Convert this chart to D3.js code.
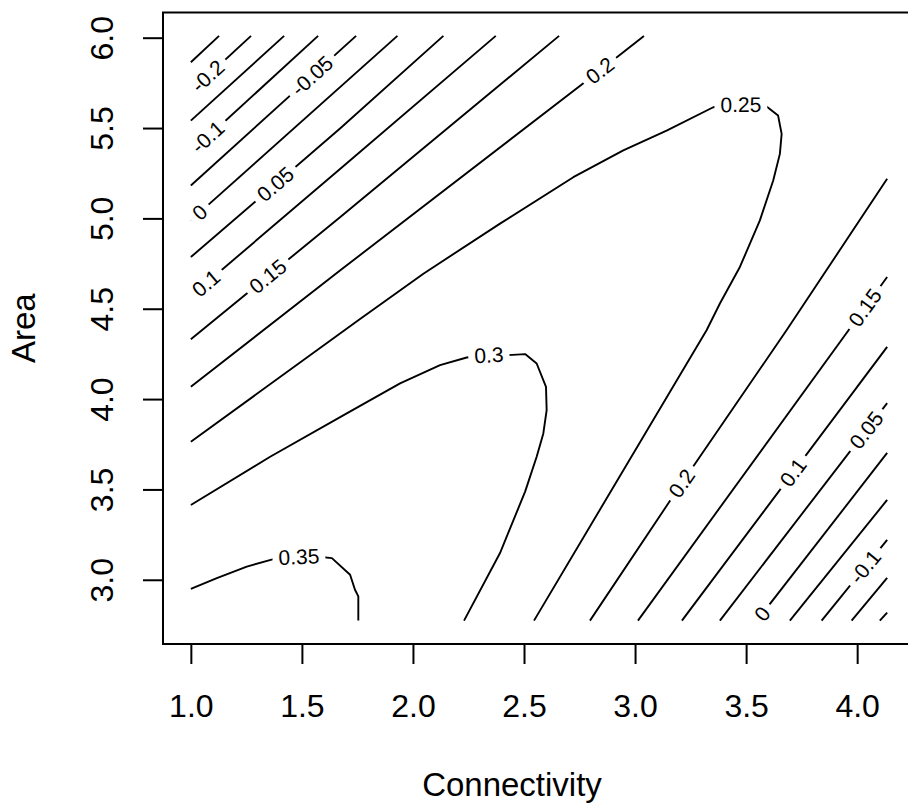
<!DOCTYPE html>
<html>
<head>
<meta charset="utf-8">
<script src="https://cdn.jsdelivr.net/npm/d3@7"></script>
<style>
  body { margin: 0; background: #fff; }
  svg { display: block; }
  text { font-family: "Liberation Sans", Arial, Helvetica, sans-serif; fill: #000; }
</style>
</head>
<body>
<svg id="chart" width="908" height="806"></svg>
<script>
// extent of the fitted grid (Connectivity x Area)
const connectivityRange = [1.0, 4.135];
const areaRange = [2.774, 6.01];

const xTicks = [1.0, 1.5, 2.0, 2.5, 3.0, 3.5, 4.0];
const yTicks = [3.0, 3.5, 4.0, 4.5, 5.0, 5.5, 6.0];

// contour pieces as [connectivity, area] points
// parallel lines in the top-left corner
const upperLines = [
  { level: -0.25, points: [[1.0, 5.864], [1.127, 6.01]] },
  { level: -0.2,  points: [[1.0, 5.702], [1.271, 6.01]] },
  { level: -0.15, points: [[1.0, 5.541], [1.420, 6.01]] },
  { level: -0.1,  points: [[1.0, 5.365], [1.573, 6.01]] },
  { level: -0.05, points: [[1.0, 5.182], [1.744, 6.01]] },
  { level: 0,     points: [[1.0, 4.989], [1.930, 6.01]] },
  { level: 0.05,  points: [[1.0, 4.786], [1.673, 5.499], [2.137, 6.01]] },
  { level: 0.1,   points: [[1.0, 4.569], [1.673, 5.275], [2.373, 6.01]] },
  { level: 0.15,  points: [[1.0, 4.331], [1.673, 5.008], [2.658, 6.01]] },
  { level: 0.2,   points: [[1.0, 4.068], [1.673, 4.713], [2.842, 5.818], [3.040, 6.01]] }
];

// the bent contours around the ridge
const ridgeLines = [
  { level: 0.25, points: [
    [1.0, 3.764], [1.754, 4.436], [2.047, 4.694], [2.392, 4.971], [2.722, 5.228],
    [2.947, 5.376], [3.142, 5.486], [3.352, 5.615], [3.472, 5.630], [3.592, 5.619],
    [3.644, 5.569], [3.660, 5.468], [3.652, 5.357], [3.622, 5.210], [3.562, 4.989],
    [3.472, 4.731], [3.382, 4.529], [3.322, 4.381], [2.545, 2.774]] },
  { level: 0.3, points: [
    [1.0, 3.414], [1.357, 3.681], [1.702, 3.921], [1.942, 4.087], [2.122, 4.188],
    [2.242, 4.230], [2.342, 4.243], [2.429, 4.243], [2.505, 4.249], [2.557, 4.197],
    [2.599, 4.068], [2.602, 3.939], [2.587, 3.810], [2.557, 3.681], [2.505, 3.488],
    [2.392, 3.148], [2.230, 2.774]] },
  { level: 0.35, points: [
    [1.0, 2.949], [1.117, 3.009], [1.252, 3.073], [1.372, 3.114], [1.487, 3.127],
    [1.597, 3.125], [1.635, 3.120], [1.717, 3.028], [1.739, 2.945], [1.754, 2.908],
    [1.754, 2.774]] }
];

// parallel lines in the bottom-right corner
const lowerLines = [
  { level: 0.2,   points: [[2.797, 2.774], [3.210, 3.534], [3.682, 4.381], [4.135, 5.219]] },
  { level: 0.15,  points: [[3.013, 2.774], [4.135, 4.676]] },
  { level: 0.1,   points: [[3.211, 2.774], [4.135, 4.289]] },
  { level: 0.05,  points: [[3.382, 2.774], [4.135, 3.978]] },
  { level: 0,     points: [[3.549, 2.774], [4.135, 3.702]] },
  { level: -0.05, points: [[3.697, 2.774], [4.135, 3.442]] },
  { level: -0.1,  points: [[3.840, 2.774], [4.135, 3.221]] },
  { level: -0.15, points: [[3.975, 2.774], [4.135, 3.011]] },
  { level: -0.2,  points: [[4.102, 2.774], [4.135, 2.818]] }
];

// where the level labels sit: [level, connectivity, area]
const contourLabels = [
  [-0.2, 1.076, 5.788], [-0.1, 1.076, 5.450], [-0.05, 1.548, 5.786],
  [0, 1.042, 5.030], [0.05, 1.386, 5.182], [0.1, 1.070, 4.639],
  [0.15, 1.346, 4.681], [0.2, 2.842, 5.818], [0.25, 3.476, 5.625],
  [0.3, 2.342, 4.240], [0.35, 1.487, 3.120], [0.2, 3.210, 3.534],
  [0.15, 4.021, 4.519], [0.1, 3.708, 3.598], [0.05, 4.046, 3.824],
  [0, 3.575, 2.810], [-0.1, 4.042, 3.066]
];

const plot = { left: 163, right: 915, top: 12.5, bottom: 644 };
const axisFont = 32;
const labelFont = 21;
const labelGap = 6;

// R style axis range: data extent plus 4% each side
function padded(r) {
    const p = (r[1] - r[0]) * 0.04;
    return [r[0] - p, r[1] + p];
}

const x = d3.scaleLinear().domain(padded(connectivityRange)).range([plot.left, plot.right]);
const y = d3.scaleLinear().domain(padded(areaRange)).range([plot.bottom, plot.top]);

const svg = d3.select("#chart");
const allLines = upperLines.concat(ridgeLines, lowerLines);

const line = d3.line()
    .x(d => x(d[0]))
    .y(d => y(d[1]));

// contour lines
svg.append("g")
    .selectAll("path")
    .data(allLines)
    .join("path")
    .attr("d", d => line(d.points))
    .attr("fill", "none")
    .attr("stroke", "#000")
    .attr("stroke-width", 1.9)
    .attr("stroke-linejoin", "round");

// find the point on a level's line nearest to (c, a) and the
// direction of the line over the width of the label
function findSpot(level, c, a, halfWidth) {
    const px = x(c), py = y(a);
    let best = null;
    allLines.filter(l => l.level === level).forEach(l => {
        const pts = l.points.map(p => [x(p[0]), y(p[1])]);
        const cum = [0];
        for (let i = 1; i < pts.length; i++) {
            cum.push(cum[i - 1] + Math.hypot(pts[i][0] - pts[i - 1][0], pts[i][1] - pts[i - 1][1]));
        }
        for (let i = 0; i < pts.length - 1; i++) {
            const [x1, y1] = pts[i], [x2, y2] = pts[i + 1];
            const dx = x2 - x1, dy = y2 - y1;
            const len2 = dx * dx + dy * dy;
            const t = Math.max(0, Math.min(1, ((px - x1) * dx + (py - y1) * dy) / len2));
            const qx = x1 + t * dx, qy = y1 + t * dy;
            const dist = Math.hypot(px - qx, py - qy);
            if (!best || dist < best.dist) {
                best = { dist, qx, qy, pts, cum, s: cum[i] + t * Math.sqrt(len2) };
            }
        }
    });

    const at = s => {
        const total = best.cum[best.cum.length - 1];
        s = Math.max(0, Math.min(total, s));
        let i = 0;
        while (i < best.cum.length - 2 && best.cum[i + 1] < s) i++;
        const segLen = best.cum[i + 1] - best.cum[i];
        const t = segLen > 0 ? (s - best.cum[i]) / segLen : 0;
        const p = best.pts[i], q = best.pts[i + 1];
        return [p[0] + t * (q[0] - p[0]), p[1] + t * (q[1] - p[1])];
    };

    const p0 = at(best.s - halfWidth), p1 = at(best.s + halfWidth);
    let angle = Math.atan2(p1[1] - p0[1], p1[0] - p0[0]) * 180 / Math.PI;
    if (angle > 90) angle -= 180;
    if (angle < -90) angle += 180;
    return { x: best.qx, y: best.qy, angle };
}

// labels sit in a gap cut out of the line
const labelLayer = svg.append("g");
contourLabels.forEach(([level, c, a]) => {
    const lg = labelLayer.append("g");
    const bg = lg.append("rect").attr("fill", "#fff");
    const t = lg.append("text")
        .text(String(level))
        .attr("text-anchor", "middle")
        .attr("dy", "0.35em")
        .attr("font-size", labelFont);
    const w = t.node().getComputedTextLength();
    bg.attr("x", -w / 2 - labelGap)
      .attr("y", -labelFont * 0.45)
      .attr("width", w + 2 * labelGap)
      .attr("height", labelFont * 0.9);
    const spot = findSpot(level, c, a, w / 2);
    lg.attr("transform", `translate(${spot.x},${spot.y}) rotate(${spot.angle})`);
});

// box around the plot region
svg.append("rect")
    .attr("x", plot.left)
    .attr("y", plot.top)
    .attr("width", plot.right - plot.left)
    .attr("height", plot.bottom - plot.top)
    .attr("fill", "none")
    .attr("stroke", "#000")
    .attr("stroke-width", 2);

// x axis
const xAxis = svg.append("g")
    .attr("transform", `translate(0,${plot.bottom})`)
    .call(d3.axisBottom(x)
        .tickValues(xTicks)
        .tickFormat(d3.format(".1f"))
        .tickSize(20)
        .tickPadding(30));
xAxis.select(".domain").remove();
xAxis.attr("font-size", axisFont).attr("font-family", null);
xAxis.selectAll("line").attr("stroke-width", 2);

// y axis, labels parallel to the axis like R
const yAxis = svg.append("g")
    .attr("transform", `translate(${plot.left},0)`)
    .call(d3.axisLeft(y)
        .tickValues(yTicks)
        .tickFormat(d3.format(".1f"))
        .tickSize(20));
yAxis.select(".domain").remove();
yAxis.attr("font-size", axisFont).attr("font-family", null);
yAxis.selectAll("line").attr("stroke-width", 2);
yAxis.selectAll("text")
    .attr("transform", "rotate(-90)")
    .attr("x", 0)
    .attr("y", -50)
    .attr("dy", null)
    .attr("text-anchor", "middle");

// axis titles
svg.append("text")
    .attr("x", 512)
    .attr("y", 796)
    .attr("text-anchor", "middle")
    .attr("font-size", 33)
    .text("Connectivity");

svg.append("text")
    .attr("transform", `translate(35,${(plot.top + plot.bottom) / 2}) rotate(-90)`)
    .attr("text-anchor", "middle")
    .attr("font-size", 33)
    .text("Area");
</script>
</body>
</html>
